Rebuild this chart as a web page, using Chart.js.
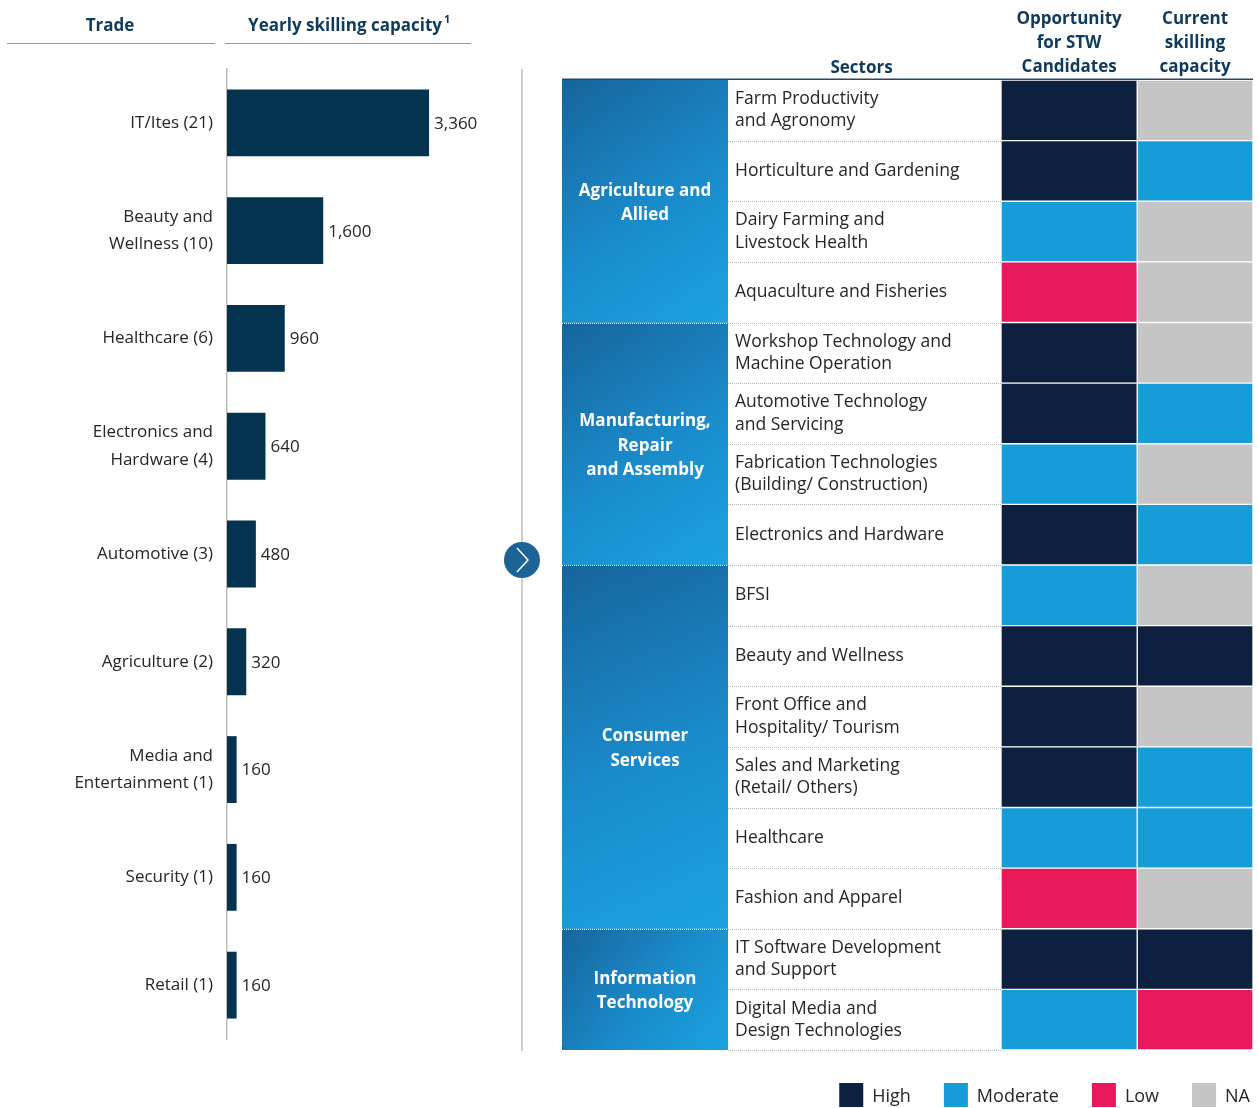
<!DOCTYPE html>
<html>
<head>
<meta charset="UTF-8">
<title>Trades and sectors</title>
<script src="https://cdn.jsdelivr.net/npm/chart.js"></script>
<style>
  body { margin: 0; background: #fff; }
  #wrap { position: relative; width: 1258px; height: 1108px; }
  #trades { position: absolute; left: 0; top: 0; }
  #sectors { position: absolute; left: 540px; top: 0; }
</style>
</head>
<body>
<div id="wrap">
  <canvas id="trades" width="545" height="1108"></canvas>
  <canvas id="sectors" width="718" height="1108"></canvas>
</div>
<script>
// left: trades and their yearly skilling capacity
const trades = [['IT/Ites (21)'], ['Beauty and', 'Wellness (10)'], ['Healthcare (6)'], ['Electronics and', 'Hardware (4)'],
  ['Automotive (3)'], ['Agriculture (2)'], ['Media and', 'Entertainment (1)'], ['Security (1)'], ['Retail (1)']];
const capacity = [3360, 1600, 960, 640, 480, 320, 160, 160, 160];

// right: sectors grouped, with two ratings each
const sectors = [
  ['Farm Productivity', 'and Agronomy'], ['Horticulture and Gardening'], ['Dairy Farming and', 'Livestock Health'], ['Aquaculture and Fisheries'],
  ['Workshop Technology and', 'Machine Operation'], ['Automotive Technology', 'and Servicing'], ['Fabrication Technologies', '(Building/ Construction)'], ['Electronics and Hardware'],
  ['BFSI'], ['Beauty and Wellness'], ['Front Office and', 'Hospitality/ Tourism'], ['Sales and Marketing', '(Retail/ Others)'], ['Healthcare'], ['Fashion and Apparel'],
  ['IT Software Development', 'and Support'], ['Digital Media and', 'Design Technologies']
];
const groupNames = [['Agriculture and', 'Allied'], ['Manufacturing,', 'Repair', 'and Assembly'], ['Consumer', 'Services'], ['Information', 'Technology']];
const groupSizes = [4, 4, 6, 2];
const opportunity = ['High', 'High', 'Moderate', 'Low', 'High', 'High', 'Moderate', 'High',
  'Moderate', 'High', 'High', 'High', 'Moderate', 'Low', 'High', 'Moderate'];
const current = ['NA', 'Moderate', 'NA', 'NA', 'NA', 'Moderate', 'NA', 'Moderate',
  'NA', 'High', 'NA', 'Moderate', 'Moderate', 'NA', 'High', 'Low'];
const levels = ['High', 'Moderate', 'Low', 'NA'];
const levelColors = ['#0e203f', '#169dd8', '#e8195a', '#c5c5c5'];
const columnHeaders = [['Opportunity', 'for STW', 'Candidates'], ['Current', 'skilling', 'capacity']];

const FONT = "'Open Sans', sans-serif";
const HEAD = '#0f3a5a';
const TEXT = '#262626';
Chart.defaults.font.family = FONT;

// column widths of the rating grid (opportunity column is a bit wider)
const columnSpans = [[0, 1], [1, 1.85]];
const colorOf = l => levelColors[levels.indexOf(l)];

const tradeDecor = {
  id: 'tradeDecor',
  afterDatasetsDraw(chart) {
    const ctx = chart.ctx;
    const a = chart.chartArea;
    ctx.save();
    // value labels
    ctx.font = '17px ' + FONT;
    ctx.fillStyle = TEXT;
    ctx.textBaseline = 'middle';
    ctx.textAlign = 'left';
    chart.getDatasetMeta(0).data.forEach((bar, i) => {
      ctx.fillText(capacity[i].toLocaleString('en-US'), bar.x + 5, bar.y + 1);
    });
    // headers
    ctx.font = 'bold 17px ' + FONT;
    ctx.fillStyle = HEAD;
    ctx.textAlign = 'center';
    ctx.fillText('Trade', 110, 26);
    const head = 'Yearly skilling capacity';
    const w = ctx.measureText(head).width;
    ctx.fillText(head, 345, 26);
    ctx.font = 'bold 11px ' + FONT;
    ctx.textAlign = 'left';
    ctx.fillText('1', 345 + w / 2 + 2, 20);
    ctx.strokeStyle = '#9a9a9a';
    ctx.lineWidth = 1;
    ctx.beginPath();
    ctx.moveTo(7, 43.5); ctx.lineTo(215, 43.5);
    ctx.moveTo(225, 43.5); ctx.lineTo(471, 43.5);
    ctx.stroke();
    // separator with arrow
    ctx.strokeStyle = '#cfcfcf';
    ctx.lineWidth = 2;
    ctx.beginPath();
    ctx.moveTo(522, a.top); ctx.lineTo(522, a.bottom + 12);
    ctx.stroke();
    ctx.fillStyle = '#1b6495';
    ctx.beginPath();
    ctx.arc(522, 560, 18, 0, Math.PI * 2);
    ctx.fill();
    ctx.strokeStyle = '#fff';
    ctx.lineWidth = 1.5;
    ctx.beginPath();
    ctx.moveTo(517, 548); ctx.lineTo(528, 560); ctx.lineTo(517, 572);
    ctx.stroke();
    ctx.restore();
  }
};

new Chart(document.getElementById('trades'), {
  type: 'bar',
  data: {
    labels: trades,
    datasets: [{
      label: 'Yearly skilling capacity',
      data: capacity,
      backgroundColor: '#04334f',
      barPercentage: 0.62,
      categoryPercentage: 1
    }]
  },
  options: {
    responsive: false,
    animation: false,
    indexAxis: 'y',
    layout: { padding: { top: 69, bottom: 69, right: 45 } },
    plugins: { legend: { display: false }, tooltip: { enabled: false } },
    scales: {
      x: { display: false, min: 0, max: 4540 },
      y: {
        grid: { display: false, drawTicks: false },
        border: { color: '#bdbdbd', width: 1.5 },
        ticks: { padding: 14, color: TEXT, font: { size: 17, lineHeight: 1.6 } },
        afterFit: s => { s.width = 227; }
      }
    }
  },
  plugins: [tradeDecor]
});

const sectorDecor = {
  id: 'sectorDecor',
  beforeDatasetsDraw(chart) {
    const ctx = chart.ctx;
    const a = chart.chartArea;
    const y = chart.scales.y;
    const rowH = (a.bottom - a.top) / sectors.length;
    const edge = i => a.top + i * rowH;
    const textLeft = y.left - 7;
    const groupLeft = textLeft - 166;
    ctx.save();
    // group blocks
    let start = 0;
    groupNames.forEach((name, g) => {
      const y0 = edge(start), y1 = edge(start + groupSizes[g]);
      const grad = ctx.createLinearGradient(groupLeft, y0, textLeft, y1);
      grad.addColorStop(0, '#17649c');
      grad.addColorStop(0.55, '#1a8ccb');
      grad.addColorStop(1, '#1ba3df');
      ctx.fillStyle = grad;
      ctx.fillRect(groupLeft, y0, textLeft - groupLeft, y1 - y0);
      ctx.fillStyle = '#fff';
      ctx.font = 'bold 17px ' + FONT;
      ctx.textAlign = 'center';
      ctx.textBaseline = 'middle';
      const cx = (groupLeft + textLeft) / 2;
      const cy = (y0 + y1) / 2 + 2;
      name.forEach((line, k) => {
        ctx.fillText(line, cx, cy + (k - (name.length - 1) / 2) * 24.5);
      });
      start += groupSizes[g];
    });
    // dotted row separators
    ctx.setLineDash([1, 1]);
    ctx.lineWidth = 1;
    ctx.strokeStyle = '#b5b5b5';
    ctx.beginPath();
    for (let i = 1; i <= sectors.length; i++) {
      const yy = Math.round(edge(i)) + 0.5;
      ctx.moveTo(textLeft, yy); ctx.lineTo(a.left, yy);
    }
    ctx.stroke();
    ctx.strokeStyle = '#ffffff';
    ctx.beginPath();
    start = 0;
    groupSizes.slice(0, -1).forEach(n => {
      start += n;
      const yy = Math.round(edge(start)) + 0.5;
      ctx.moveTo(groupLeft, yy); ctx.lineTo(textLeft, yy);
    });
    ctx.stroke();
    ctx.setLineDash([]);
    // top rule
    ctx.strokeStyle = '#2b4660';
    ctx.lineWidth = 1.5;
    ctx.beginPath();
    ctx.moveTo(groupLeft, a.top - 0.75); ctx.lineTo(a.right, a.top - 0.75);
    ctx.stroke();
    // sectors header
    ctx.fillStyle = HEAD;
    ctx.font = 'bold 17px ' + FONT;
    ctx.textAlign = 'center';
    ctx.textBaseline = 'middle';
    ctx.fillText('Sectors', (textLeft + a.left) / 2 - 3, a.top - 12);
    ctx.restore();
  },
  afterDraw(chart) {
    const ctx = chart.ctx;
    const a = chart.chartArea;
    ctx.save();
    ctx.font = '18px ' + FONT;
    ctx.textBaseline = 'middle';
    ctx.textAlign = 'left';
    const box = 24, gapText = 9, gapItem = 33;
    const widths = levels.map(l => box + gapText + ctx.measureText(l).width);
    const total = widths.reduce((s, w) => s + w, 0) + gapItem * (levels.length - 1);
    let x = a.right - 3 - total;
    const cy = a.bottom + 45;
    levels.forEach((l, i) => {
      ctx.fillStyle = levelColors[i];
      ctx.fillRect(x, cy - box / 2, box, box);
      ctx.fillStyle = TEXT;
      ctx.fillText(l, x + box + gapText, cy + 2);
      x += widths[i] + gapItem;
    });
    ctx.restore();
  }
};

const cellSet = (label, ratings, span) => ({
  label,
  data: sectors.map(() => span),
  backgroundColor: ratings.map(colorOf),
  borderColor: '#ffffff',
  borderWidth: 1,
  borderSkipped: false,
  barPercentage: 1,
  categoryPercentage: 1,
  grouped: false
});

new Chart(document.getElementById('sectors'), {
  type: 'bar',
  data: {
    labels: sectors,
    datasets: [
      cellSet('Opportunity for STW Candidates', opportunity, columnSpans[0]),
      cellSet('Current skilling capacity', current, columnSpans[1])
    ]
  },
  options: {
    responsive: false,
    animation: false,
    indexAxis: 'y',
    layout: { padding: { top: 0, left: 195, right: 5, bottom: 58 } },
    plugins: { legend: { display: false }, tooltip: { enabled: false } },
    scales: {
      x: {
        position: 'top',
        min: columnSpans[0][0],
        max: columnSpans[1][1],
        grid: { display: false, drawTicks: false },
        border: { display: false },
        afterBuildTicks: s => { s.ticks = columnSpans.map(sp => ({ value: (sp[0] + sp[1]) / 2 })); },
        afterFit: s => { s.height = 80; },
        ticks: {
          autoSkip: false,
          maxRotation: 0,
          padding: 1,
          color: HEAD,
          font: { size: 17, weight: 'bold', lineHeight: 1.41 },
          callback: (v, i) => columnHeaders[i]
        }
      },
      y: {
        grid: { display: false, drawTicks: false },
        border: { display: false },
        afterFit: s => { s.width = 266; },
        ticks: {
          autoSkip: false,
          crossAlign: 'far',
          color: TEXT,
          font: { size: 17.5, lineHeight: 1.27 }
        }
      }
    }
  },
  plugins: [sectorDecor]
});
</script>
</body>
</html>
